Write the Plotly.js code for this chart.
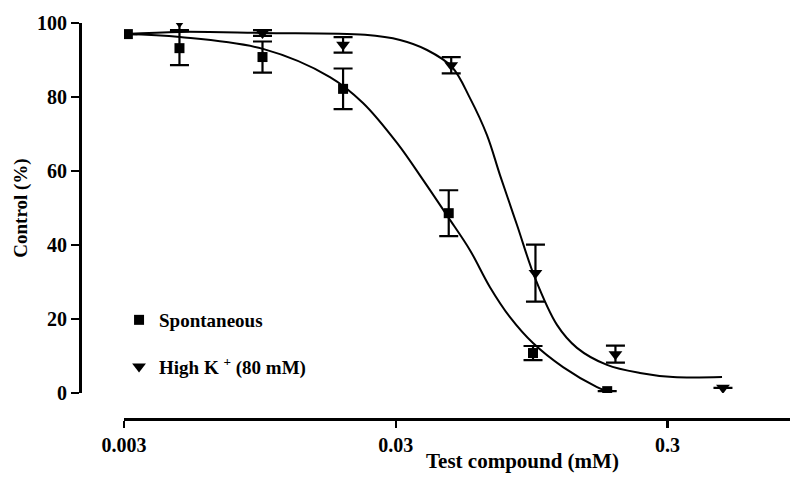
<!DOCTYPE html>
<html>
<head>
<meta charset="utf-8">
<script src="https://cdn.plot.ly/plotly-3.0.1.min.js"></script>
<style>html,body{margin:0;padding:0;background:#fff;}#chart{width:790px;height:489px;}</style>
</head>
<body>
<div id="chart"></div>
<script>
// Tick labels
const xTickVals = [0.003, 0.03, 0.3];
const xTickText = ['0.003', '0.03', '0.3'];
const yTickVals = [0, 20, 40, 60, 80, 100];

// Spontaneous (squares)
const spontX   = [0.0031, 0.0048, 0.0097, 0.0192, 0.047, 0.096, 0.18];
const spontY   = [97.0, 93.2, 90.8, 82.2, 48.6, 10.8, 0.5];
const spontErr = [0, 4.6, 4.2, 5.5, 6.2, 1.9, 0];

// High K+ (80 mM) (triangles)
const highKX   = [0.0048, 0.0097, 0.0192, 0.048, 0.098, 0.193, 0.48];
const highKY   = [100.3, 97.3, 94.1, 88.6, 32.4, 10.5, 1.4];
const highKErr = [2.2, 0.8, 2.1, 2.2, 7.7, 2.3, 0];

// Fitted curves
const spontFitX = [0.003026, 0.004823, 0.009741, 0.01718, 0.02273, 0.03032, 0.03780, 0.04670, 0.05627, 0.06666, 0.07898, 0.09598, 0.1238, 0.1651, 0.1797];
const spontFitY = [97.0, 96.2, 93.0, 85.4, 78.4, 67.6, 57.6, 47.6, 38.6, 28.6, 20.5, 13.5, 7.0, 1.6, 0.5];
const highKFitX = [0.003026, 0.004823, 0.009741, 0.02312, 0.03110, 0.03910, 0.04831, 0.05627, 0.06499, 0.07256, 0.08381, 0.09761, 0.1176, 0.1393, 0.1797, 0.2376, 0.3143, 0.4762];
const highKFitY = [97.0, 97.6, 97.3, 96.8, 95.4, 92.7, 88.1, 79.7, 69.7, 58.9, 45.4, 31.1, 18.4, 12.2, 7.6, 5.4, 4.3, 4.3];

const FONT = 'Liberation Serif, Times New Roman, serif';

const traces = [
  {x: spontFitX, y: spontFitY, type: 'scatter', mode: 'lines',
   line: {color: '#000', width: 2, shape: 'spline'}, showlegend: false, hoverinfo: 'skip'},
  {x: highKFitX, y: highKFitY, type: 'scatter', mode: 'lines',
   line: {color: '#000', width: 2, shape: 'spline'}, showlegend: false, hoverinfo: 'skip'},
  {x: spontX, y: spontY, type: 'scatter', mode: 'markers', name: 'Spontaneous',
   legendgroup: 'a',
   marker: {symbol: 'square', size: 10, color: '#000'},
   error_y: {type: 'data', array: spontErr, visible: true, color: '#000', thickness: 2.2, width: 9.5}},
  {x: highKX, y: highKY, type: 'scatter', mode: 'markers', name: 'High K <sup>+</sup> (80 mM)',
   legendgroup: 'b',
   marker: {symbol: 'triangle-down', size: 12, color: '#000'},
   error_y: {type: 'data', array: highKErr, visible: true, color: '#000', thickness: 2.2, width: 9.5}}
];

const x0 = Math.log10(0.003);
const layout = {
  width: 790, height: 489,
  margin: {l: 80, r: 0, t: 23, b: 70, pad: 0},
  paper_bgcolor: '#fff', plot_bgcolor: '#fff',
  font: {family: FONT, size: 19, color: '#000'},
  showlegend: true,
  legend: {x: 0.055, y: 0.298, xanchor: 'left', yanchor: 'top',
           bgcolor: 'rgba(0,0,0,0)', font: {family: FONT, size: 19, color: '#000', weight: 'bold'},
           tracegroupgap: 19, itemwidth: 30},
  xaxis: {
    type: 'log', range: [x0, x0 + 666 / 271.75],
    domain: [44 / 710, 1], anchor: 'free', position: 0,
    tickvals: xTickVals, ticktext: xTickText,
    ticks: 'outside', ticklen: 7, tickwidth: 2.5, tickcolor: '#000',
    showline: true, linecolor: '#000', linewidth: 3,
    showgrid: false, zeroline: false,
    tickfont: {family: FONT, size: 20, color: '#000', weight: 'bold'}
  },
  yaxis: {
    range: [0, 100], domain: [26 / 396, 1], anchor: 'free', position: 0,
    tickvals: yTickVals,
    ticks: 'outside', ticklen: 8, tickwidth: 2.5, tickcolor: '#000',
    showline: true, linecolor: '#000', linewidth: 3,
    showgrid: false, zeroline: false,
    tickfont: {family: FONT, size: 20, color: '#000', weight: 'bold'},
    title: {text: 'Control (%)', font: {family: FONT, size: 19, color: '#000', weight: 'bold'}, standoff: 3}
  },
  annotations: [
    {text: 'Test compound (mM)', xref: 'paper', yref: 'paper',
     x: (522 - 80) / 710, y: (419 - 461) / 396, xanchor: 'center', yanchor: 'middle',
     showarrow: false, font: {family: FONT, size: 21, color: '#000', weight: 'bold'}}
  ]
};

Plotly.newPlot('chart', traces, layout, {displayModeBar: false, staticPlot: true});
</script>
</body>
</html>
